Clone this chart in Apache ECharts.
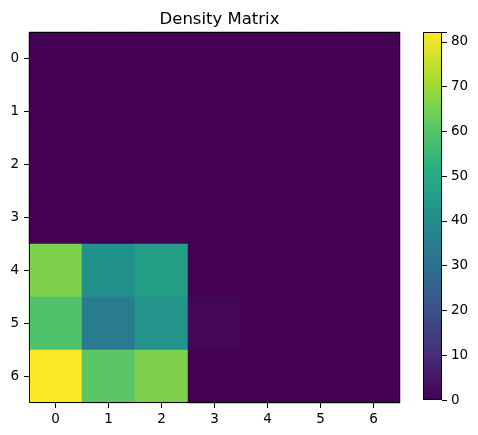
<!DOCTYPE html>
<html>
<head>
<meta charset="utf-8">
<script src="https://cdn.jsdelivr.net/npm/echarts@6/dist/echarts.min.js"></script>
<style>
  html, body { margin: 0; padding: 0; background: #fff; }
  #chart { width: 478px; height: 435px; }
</style>
</head>
<body>
<div id="chart"></div>
<script>
  const xLabels = ['0', '1', '2', '3', '4', '5', '6']
  const yLabels = ['0', '1', '2', '3', '4', '5', '6']
  // rows top to bottom, columns left to right
  const matrix = [
    [0, 0, 0, 0, 0, 0, 0],
    [0, 0, 0, 0, 0, 0, 0],
    [0, 0, 0, 0, 0, 0, 0],
    [0, 0, 0, 0, 0, 0, 0],
    [66, 41, 46, 0, 0, 0, 0],
    [59, 34, 42, 1.5, 0, 0, 0],
    [82, 61, 66, 0, 0, 0, 0]
  ]
  const vmin = 0
  const vmax = 82.2
  const colorTicks = [0, 10, 20, 30, 40, 50, 60, 70, 80]
  const viridis = ['#440154', '#472d7b', '#3b528b', '#2c728e', '#21918c', '#28ae80', '#5ec962', '#addc30', '#fde725']

  const cells = []
  matrix.forEach((row, r) => {
    row.forEach((v, c) => { cells.push([c, r, v]) })
  })

  // plot box and colorbar box (pixels)
  const main = { left: 29, top: 32, width: 371, height: 371 }
  const cbar = { left: 423, top: 32, width: 19, height: 368 }

  const myChart = echarts.init(document.getElementById('chart'))
  const font = 'DejaVu Sans'
  const tick = { show: true, length: 5, lineStyle: { color: '#000' } }
  const label = { color: '#000', fontSize: 13.5, fontFamily: font, margin: 9 }
  const option = {
    animation: false,
    textStyle: { fontFamily: font },
    title: {
      text: 'Density Matrix',
      left: main.left + main.width / 2,
      top: 6,
      textAlign: 'center',
      textStyle: { fontFamily: font, fontSize: 16.5, fontWeight: 'normal', color: '#000' }
    },
    grid: [
      Object.assign({}, main),
      Object.assign({}, cbar)
    ],
    visualMap: {
      show: false,
      min: vmin,
      max: vmax,
      seriesIndex: 0,
      inRange: { color: viridis }
    },
    xAxis: [
      {
        type: 'category',
        gridIndex: 0,
        data: xLabels,
        axisLine: { show: false },
        axisTick: Object.assign({ alignWithLabel: true }, tick),
        axisLabel: label,
        splitLine: { show: false }
      },
      { type: 'category', gridIndex: 1, data: ['c'], show: false }
    ],
    yAxis: [
      {
        type: 'category',
        gridIndex: 0,
        data: yLabels,
        inverse: true,
        axisLine: { show: false },
        axisTick: Object.assign({ alignWithLabel: true }, tick),
        axisLabel: Object.assign({}, label, { margin: 10 }),
        splitLine: { show: false }
      },
      {
        type: 'value',
        gridIndex: 1,
        position: 'right',
        min: vmin,
        max: vmax,
        interval: 10,
        axisLine: { show: false },
        axisTick: tick,
        axisLabel: Object.assign({}, label, {
          formatter: v => (colorTicks.indexOf(v) >= 0 ? String(v) : '')
        }),
        splitLine: { show: false }
      }
    ],
    series: [
      {
        type: 'heatmap',
        xAxisIndex: 0,
        yAxisIndex: 0,
        data: cells,
        itemStyle: { borderWidth: 0 },
        emphasis: { disabled: true }
      },
      {
        type: 'bar',
        xAxisIndex: 1,
        yAxisIndex: 1,
        data: [vmax],
        barWidth: '100%',
        silent: true,
        itemStyle: {
          color: new echarts.graphic.LinearGradient(0, 1, 0, 0,
            viridis.map((c, i) => ({ offset: i / (viridis.length - 1), color: c })))
        }
      }
    ],
    graphic: [main, cbar].map(b => ({
      type: 'rect',
      z: 100,
      silent: true,
      shape: { x: b.left + 0.5, y: b.top + 0.5, width: b.width - 1, height: b.height - 1 },
      style: { fill: 'none', stroke: '#000', lineWidth: 1 }
    }))
  }
  myChart.setOption(option)
</script>
</body>
</html>
